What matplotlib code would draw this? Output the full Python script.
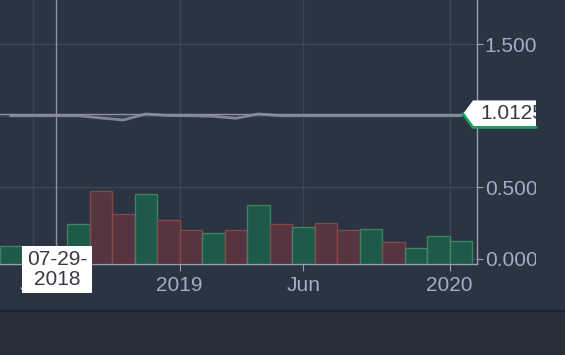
import matplotlib
matplotlib.use('Agg')
import matplotlib.pyplot as plt
from matplotlib.patches import Polygon, Rectangle
from matplotlib.lines import Line2D
from matplotlib.transforms import Bbox, IdentityTransform

# --- data (one bar / point per period) ---
bar_index = list(range(21))
volume = [180, 100, 60, 400, 730, 500, 700, 440, 340, 310, 340,
          590, 400, 370, 410, 340, 350, 220, 160, 280, 230]
direction = ['up', 'down', 'up', 'up', 'down', 'down', 'up', 'down', 'down', 'up', 'down',
             'up', 'down', 'up', 'down', 'down', 'up', 'down', 'up', 'up', 'up']
price = [1.0, 1.0, 1.0, 1.0, 0.984, 0.970, 1.012, 1.001, 1.0, 0.996, 0.982,
         1.012, 1.0, 1.0, 1.0, 1.0, 1.0, 1.0, 1.0, 1.0, 1.0]

time_ticks = [1, 7.5, 13, 19.5]
time_labels = ['Jul', '2019', 'Jun', '2020']
price_ticks = [0.0, 0.5, 1.0, 1.5]
price_labels = ['0.0000', '0.5000', '1.0000', '1.5000']

cross_idx = 2
cross_date = '07-29-\n2018'
cross_price = 1.0125

# colours
bg = '#2b3442'
bg_low = '#283039'
grid_c = '#3b4452'
axis_c = '#9aa0a8'
text_c = '#a3aec4'
line_c = '#7e8694'
up_fill, up_edge = '#1d5e4a', '#3f8a64'
dn_fill, dn_edge = '#5b3540', '#8c4a4a'

W, H = 565, 355
fig = plt.figure(figsize=(W / 100, H / 100), dpi=100, facecolor=bg)

# lower strip under the time axis
fig.add_artist(Rectangle((0, 0), W, 44, transform=IdentityTransform(),
                         facecolor=bg_low, edgecolor='none', zorder=-5))
fig.add_artist(Line2D([0, W], [44.5, 44.5], transform=IdentityTransform(),
                      color='#1d232c', lw=1.5, zorder=-4))

ax = fig.add_axes([0, 91 / H, 477 / W, 264 / H])
ax.set_facecolor(bg)
ax.set_xlim(-0.478, 20.72)
ax.set_ylim(-0.0349, 1.8074)

ax.grid(True, color=grid_c, lw=1)
ax.set_axisbelow(True)
ax.plot(bar_index, price, color=line_c, lw=2, zorder=2)

# crosshair
ax.axvline(cross_idx, color='#8e949e', lw=1, zorder=4)
ax.axhline(cross_price, color='#8e949e', lw=1, zorder=3)

# volume overlay
axv = ax.twinx()
axv.set_ylim(0, 2640)
axv.patch.set_visible(False)
fills = [up_fill if d == 'up' else dn_fill for d in direction]
edges = [up_edge if d == 'up' else dn_edge for d in direction]
axv.bar(bar_index, volume, width=1.0, color=fills, edgecolor=edges, lw=1, alpha=0.9)
axv.set_yticks([])
for s in axv.spines.values():
    s.set_visible(False)

for s in ['top', 'left']:
    ax.spines[s].set_visible(False)
for s in ['right', 'bottom']:
    ax.spines[s].set_color(axis_c)
    ax.spines[s].set_linewidth(1)

ax.yaxis.tick_right()
ax.set_yticks(price_ticks, price_labels)
ax.set_xticks(time_ticks, time_labels)
ax.tick_params(axis='x', length=5, color=axis_c, labelcolor=text_c, labelsize=15, pad=3.5)
ax.tick_params(axis='y', length=4, color=axis_c, labelcolor=text_c, labelsize=15, pad=1.5)
for lbl in ax.get_xticklabels() + ax.get_yticklabels():
    lbl.set_fontfamily('Liberation Sans')

clip = Bbox.from_extents(0, 0, 536, H)
for lbl in ax.get_yticklabels():
    lbl.set_clip_on(True)
    lbl.set_clip_box(clip)

# price label on the right scale
py = ax.transData.transform((0, cross_price))[1]
tip_x, corner_x, right_x, hh = 463, 473, 536, 13.5
fig.add_artist(Polygon([(tip_x, py), (corner_x, py + hh), (right_x, py + hh),
                        (right_x, py - hh), (corner_x, py - hh)],
                       closed=True, transform=IdentityTransform(),
                       facecolor='white', edgecolor='none', zorder=5))
fig.add_artist(Line2D([tip_x, corner_x, right_x], [py, py - hh, py - hh],
                      transform=IdentityTransform(), color='#1aa05f', lw=2, zorder=6))
t = fig.text(480.5 / W, py / H, f'{cross_price:.4f}', ha='left', va='center',
             fontsize=15, color='#363a45', family='Liberation Sans', zorder=7)
t.set_clip_on(True)
t.set_clip_box(clip)

# date label under the crosshair
cx = ax.transData.transform((cross_idx, 0))[0] + 1
fig.add_artist(Rectangle((cx - 35, 62), 70, 47, transform=IdentityTransform(),
                         facecolor='white', edgecolor='none', zorder=5))
fig.text(cx / W, 85.5 / H, cross_date, ha='center', va='center', fontsize=15,
         color='#363a45', family='Liberation Sans', linespacing=1.1, zorder=7)

fig.savefig('out.png', dpi=100, facecolor=bg)
